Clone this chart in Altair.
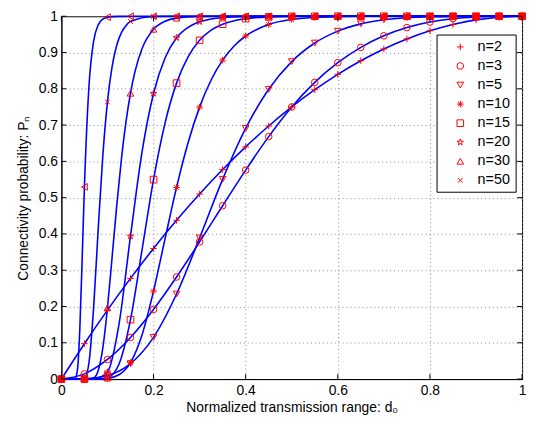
import altair as alt
import pandas as pd

# ---------------- data ----------------
D_MARK = [0, 0.05, 0.1, 0.15, 0.2, 0.25, 0.3, 0.35, 0.4, 0.45, 0.5,
          0.55, 0.6, 0.65, 0.7, 0.75, 0.8, 0.85, 0.9, 0.95, 1]

LABELS = ["n=2", "n=3", "n=5", "n=10", "n=15", "n=20", "n=30", "n=50"]

# marker values at D_MARK
M2 = [0, 0.0975, 0.19, 0.2775, 0.36, 0.4375, 0.51, 0.5775, 0.64, 0.6975, 0.75,
      0.7975, 0.84, 0.8775, 0.91, 0.9375, 0.96, 0.9775, 0.99, 0.9975, 1]
M3 = [0, 0.0143, 0.054, 0.1148, 0.192, 0.2813, 0.378, 0.4778, 0.576, 0.6683, 0.75,
      0.8178, 0.872, 0.9143, 0.946, 0.9688, 0.984, 0.9933, 0.998, 0.9998, 1]
M5 = [0, 0.0007, 0.0096, 0.0425, 0.1149, 0.2344, 0.3891, 0.5505, 0.6909, 0.7987, 0.875,
      0.9262, 0.959, 0.979, 0.9903, 0.9961, 0.9987, 0.9997, 1, 1, 1]
M10 = [0, 0, 0.002, 0.0454, 0.2425, 0.5283, 0.7495, 0.879, 0.9456, 0.9772, 0.9912,
       0.9969, 0.9991, 0.9998, 0.9999, 1, 1, 1, 1, 1, 1]
M15 = [0, 0, 0.0039, 0.1637, 0.5498, 0.8157, 0.9336, 0.9781, 0.9934, 0.9982, 0.9996,
       0.9999, 1, 1, 1, 1, 1, 1, 1, 1, 1]
M20 = [0, 0, 0.0193, 0.3938, 0.7872, 0.9409, 0.9848, 0.9966, 0.9993, 0.9999, 1,
       1, 1, 1, 1, 1, 1, 1, 1, 1, 1]
M30 = [0, 0, 0.196, 0.7878, 0.9642, 0.9948, 0.9993, 0.9999, 1, 1, 1,
       1, 1, 1, 1, 1, 1, 1, 1, 1, 1]
M50 = [0, 0.001, 0.7639, 0.9855, 0.9993, 1, 1, 1, 1, 1, 1,
       1, 1, 1, 1, 1, 1, 1, 1, 1, 1]
M100 = [0, 0.5297, 0.9974, 1, 1, 1, 1, 1, 1, 1, 1,
        1, 1, 1, 1, 1, 1, 1, 1, 1, 1]

# curve samples (denser where the curves are steep)
C10_X = [0, 0.05, 0.075, 0.1, 0.125, 0.15, 0.175, 0.2, 0.225, 0.25, 0.275, 0.3, 0.325,
         0.35, 0.375, 0.4, 0.45, 0.5, 0.55, 0.6, 0.65, 0.7, 0.75, 0.8, 0.9, 1]
C10_Y = [0, 0, 0.0002, 0.002, 0.0118, 0.0454, 0.1217, 0.2425, 0.3866, 0.5283, 0.6512, 0.7495, 0.8243,
         0.879, 0.9182, 0.9456, 0.9772, 0.9912, 0.9969, 0.9991, 0.9998, 0.9999, 1, 1, 1, 1]
C15_X = [0, 0.075, 0.1, 0.125, 0.15, 0.175, 0.2, 0.225, 0.25, 0.275, 0.3, 0.325, 0.35,
         0.375, 0.4, 0.45, 0.5, 0.55, 0.6, 0.7, 0.8, 1]
C15_Y = [0, 0.0002, 0.0039, 0.041, 0.1637, 0.3555, 0.5498, 0.7056, 0.8157, 0.8881, 0.9336, 0.9615, 0.9781,
         0.9879, 0.9934, 0.9982, 0.9996, 0.9999, 1, 1, 1, 1]
C20_X = [0, 0.05, 0.075, 0.1, 0.125, 0.15, 0.175, 0.2, 0.225, 0.25, 0.275, 0.3, 0.325,
         0.35, 0.4, 0.45, 0.5, 0.6, 0.8, 1]
C20_Y = [0, 0, 0.0015, 0.0193, 0.1508, 0.3938, 0.6253, 0.7872, 0.885, 0.9409, 0.9694, 0.9848, 0.9927,
         0.9966, 0.9993, 0.9999, 1, 1, 1, 1]
C30_X = [0, 0.05, 0.06, 0.07, 0.08, 0.09, 0.1, 0.11, 0.12, 0.13, 0.14, 0.15, 0.16,
         0.175, 0.2, 0.225, 0.25, 0.3, 0.35, 0.4, 0.6, 0.8, 1]
C30_Y = [0, 0, 0.0002, 0.0031, 0.0238, 0.0862, 0.196, 0.3345, 0.4759, 0.6025, 0.7067, 0.7878, 0.8487,
         0.9106, 0.9642, 0.9862, 0.9948, 0.9993, 0.9999, 1, 1, 1, 1]
C50_X = [0, 0.04, 0.05, 0.06, 0.07, 0.08, 0.09, 0.1, 0.11, 0.12, 0.13, 0.14, 0.15,
         0.2, 0.25, 0.3, 0.5, 1]
C50_Y = [0, 0, 0.001, 0.0464, 0.1976, 0.4153, 0.6162, 0.7639, 0.8603, 0.9192, 0.954, 0.9741, 0.9855,
         0.9993, 1, 1, 1, 1]
C100_X = [0, 0.025, 0.03, 0.035, 0.04, 0.045, 0.05, 0.06, 0.07, 0.08, 0.09, 0.1, 0.12,
          0.15, 0.2, 1]
C100_Y = [0, 0, 0.002, 0.0273, 0.1375, 0.3278, 0.5297, 0.8098, 0.9315, 0.9764, 0.9921, 0.9974, 0.9997,
          1, 1, 1]

X_TICKS = [0, 0.2, 0.4, 0.6, 0.8, 1]
Y_TICKS = [0, 0.1, 0.2, 0.3, 0.4, 0.5, 0.6, 0.7, 0.8, 0.9, 1]

# ---------------- tables ----------------
def rows(label, xs, ys):
    return [{"d": x, "p": y, "n": label} for x, y in zip(xs, ys)]

curves = (rows("n=2", D_MARK, M2) + rows("n=3", D_MARK, M3) + rows("n=5", D_MARK, M5)
          + rows("n=10", C10_X, C10_Y) + rows("n=15", C15_X, C15_Y)
          + rows("n=20", C20_X, C20_Y) + rows("n=30", C30_X, C30_Y)
          + rows("n=50", C50_X, C50_Y) + rows("n=100", C100_X, C100_Y))
line_df = pd.DataFrame(curves)

marks = []
for lab, vals in zip(LABELS, [M2, M3, M5, M10, M15, M20, M30, M50]):
    marks += rows(lab, D_MARK, vals)
mark_df = pd.DataFrame(marks)
m100_df = pd.DataFrame(rows("n=100", D_MARK, M100))
xt_df = pd.DataFrame({"d": X_TICKS})
yt_df = pd.DataFrame({"p": Y_TICKS})
leg_df = pd.DataFrame({"n": LABELS})
box_df = pd.DataFrame({"n": ["legend"]})

# ---------------- style ----------------
W, H = 466, 367
FONT = "Liberation Sans"
BLUE = "#0000FF"
RED = "#FF0000"

PLUS = "M-1,0L1,0M0,-1L0,1"
ASTER = "M-1,0L1,0M0,-1L0,1M-0.7,-0.7L0.7,0.7M-0.7,0.7L0.7,-0.7"
STAR = ("M0,-1L0.2245,-0.309L0.9511,-0.309L0.3633,0.118L0.5878,0.809L0,0.382"
        "L-0.5878,0.809L-0.3633,0.118L-0.9511,-0.309L-0.2245,-0.309Z")
XMARK = "M-0.7,-0.7L0.7,0.7M-0.7,0.7L0.7,-0.7"
SHAPES = [PLUS, "circle", "triangle-down", ASTER, "square", STAR, "triangle-up", XMARK]
shape_scale = alt.Scale(domain=LABELS, range=SHAPES)

x_enc = alt.X("d:Q", scale=alt.Scale(domain=[0, 1], nice=False, zero=False),
              axis=alt.Axis(values=X_TICKS, format="~g", title="Normalized transmission range: d₀",
                            grid=True, ticks=False, tickSize=0, labelFlush=False, labelOverlap=False,
                            labelPadding=5, titlePadding=3))
y_enc = alt.Y("p:Q", scale=alt.Scale(domain=[0, 1], nice=False, zero=False),
              axis=alt.Axis(values=Y_TICKS, format="~g", title="Connectivity probability: Pₙ",
                            grid=True, ticks=False, tickSize=0, labelFlush=False, labelOverlap=False,
                            labelPadding=4, titlePadding=8))

lines = alt.Chart(line_df).mark_line(color=BLUE, strokeWidth=1.6, interpolate="monotone").encode(
    x=x_enc, y=y_enc, detail="n:N")

points = alt.Chart(mark_df).mark_point(filled=False, color=RED, size=45, strokeWidth=1, opacity=1).encode(
    x=x_enc, y=y_enc, shape=alt.Shape("n:N", scale=shape_scale, legend=None))

pts100 = alt.Chart(m100_df).mark_point(filled=False, color=RED, size=45, strokeWidth=1, opacity=1,
                                       shape="triangle-left").encode(x=x_enc, y=y_enc)

tick_b = alt.Chart(xt_df).mark_rule(color="black", strokeWidth=1).encode(
    x=x_enc, y=alt.value(H), y2=alt.value(H - 5))
tick_t = alt.Chart(xt_df).mark_rule(color="black", strokeWidth=1).encode(
    x=x_enc, y=alt.value(0), y2=alt.value(5))
tick_l = alt.Chart(yt_df).mark_rule(color="black", strokeWidth=1).encode(
    y=y_enc, x=alt.value(0), x2=alt.value(5))
tick_r = alt.Chart(yt_df).mark_rule(color="black", strokeWidth=1).encode(
    y=y_enc, x=alt.value(W), x2=alt.value(W - 5))

main = alt.layer(lines, points, pts100, tick_b, tick_t, tick_l, tick_r)

# legend (box + symbols + labels), entries laid out by a point scale over LABELS
leg_y = alt.Y("n:N", scale=alt.Scale(type="point", domain=LABELS, range=[31, 166], padding=0),
              axis=None)
leg_box = alt.Chart(box_df).mark_rect(fill="white", stroke="black", strokeWidth=1).encode(
    x=alt.value(380), x2=alt.value(460), y=alt.value(19), y2=alt.value(178))
leg_sym = alt.Chart(leg_df).mark_point(filled=False, color=RED, size=45, strokeWidth=1, opacity=1).encode(
    x=alt.value(403.5), y=leg_y, shape=alt.Shape("n:N", scale=shape_scale, legend=None))
leg_txt = alt.Chart(leg_df).mark_text(align="left", baseline="middle", font=FONT, fontSize=14.5,
                                      color="black").encode(
    x=alt.value(421), y=leg_y, text="n:N")
legend = alt.layer(leg_box, leg_sym, leg_txt)

chart = alt.layer(main, legend).resolve_scale(y="independent").properties(
    width=W, height=H,
    autosize=alt.AutoSizeParams(type="none"),
    padding={"left": 54, "top": 6, "right": 6, "bottom": 35},
    background="white",
).configure_view(
    stroke="black", strokeWidth=1
).configure_axis(
    labelFont=FONT, labelFontSize=14, labelColor="black",
    titleFont=FONT, titleFontSize=14, titleFontWeight="normal", titleColor="black",
    domainColor="black", domainWidth=1,
    gridColor="#888888", gridDash=[1, 3], gridWidth=1, gridOpacity=1,
)

chart.save("out.html", embed_options={"renderer": "svg", "actions": False})
